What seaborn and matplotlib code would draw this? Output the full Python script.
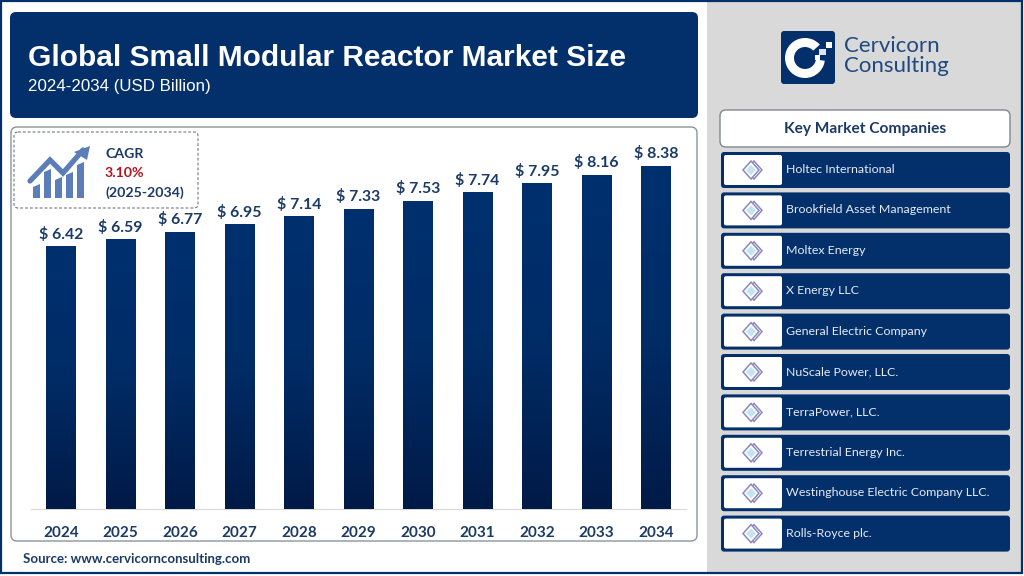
import numpy as np
import pandas as pd
import matplotlib
matplotlib.use("Agg")
import matplotlib.pyplot as plt
from matplotlib.patches import FancyBboxPatch, Rectangle, Polygon, Wedge
from matplotlib.colors import LinearSegmentedColormap
import seaborn as sns

years = ["2024", "2025", "2026", "2027", "2028", "2029", "2030", "2031", "2032", "2033", "2034"]
values = [6.42, 6.59, 6.77, 6.95, 7.14, 7.33, 7.53, 7.74, 7.95, 8.16, 8.38]
companies = ["Holtec International", "Brookfield Asset Management", "Moltex Energy", "X Energy LLC",
             "General Electric Company", "NuScale Power, LLC.", "TerraPower, LLC.",
             "Terrestrial Energy Inc.", "Westinghouse Electric Company LLC.", "Rolls-Royce plc."]
title = "Global Small Modular Reactor Market Size"
subtitle = "2024-2034 (USD Billion)"
source = "Source: www.cervicornconsulting.com"

NAVY = "#03306b"
TEXT = "#1b3a66"
BODY = "Lato"
W, H = 1024, 576

sns.set_theme(style="white")
plt.rcParams["font.family"] = [BODY, "DejaVu Sans"]
fig = plt.figure(figsize=(W / 100, H / 100), dpi=100, facecolor="white")

# page layer in pixel coordinates (y downwards)
pg = fig.add_axes([0, 0, 1, 1], zorder=0)
pg.set_xlim(0, W); pg.set_ylim(H, 0); pg.axis("off")


def rbox(x0, y0, x1, y1, r=5, fc="white", ec="none", lw=1.0, ls="-", z=1):
    p = FancyBboxPatch((x0 + r, y0 + r), x1 - x0 - 2 * r, y1 - y0 - 2 * r,
                       boxstyle=f"round,pad={r},rounding_size={r}", fc=fc, ec=ec, lw=lw, ls=ls, zorder=z)
    pg.add_patch(p)
    return p


pg.add_patch(Rectangle((707, 2), 315, 571, fc="#d9d9d9", ec="none", zorder=0.5))
pg.add_patch(Rectangle((1, 1), 1021, 572, fc="none", ec=NAVY, lw=1.6, zorder=5))

# title banner
rbox(10, 12, 698, 118, r=6, fc=NAVY)
pg.text(28, 58, title, color="white", fontsize=21.5, fontweight="bold", family="Liberation Sans", va="center", zorder=3)
pg.text(28, 87, subtitle, color="white", fontsize=12.2, family="Liberation Sans", va="center", zorder=3)

# chart frame
rbox(11, 127, 697, 541, r=6, fc="white", ec="#8a949e", lw=1.0)
pg.text(23, 559, source, color=TEXT, fontsize=9.5, fontweight="bold", va="center", zorder=3)

# CAGR box
rbox(14, 132, 198, 208, r=4, fc="white", ec="#5f6770", lw=0.7, ls=(0, (3, 2)), z=2)
ICON = "#5b7db8"
for x0, top in [(33, 187), (44, 172), (55, 180), (66, 175), (77, 165)]:
    pg.add_patch(Polygon([(x0, 198), (x0, top), (x0 + 7, top - 3), (x0 + 7, 198)], fc=ICON, ec="none", zorder=3))
pg.plot([30, 50, 63, 83], [181, 160, 173, 150], color=ICON, lw=3.8, solid_joinstyle="miter", zorder=3)
pg.add_patch(Polygon([(74, 152), (90, 146), (87, 160)], fc=ICON, ec="none", zorder=3))
pg.text(105, 154, "CAGR", color=TEXT, fontsize=10.2, fontweight="bold", va="center", zorder=3)
pg.text(105, 173, "3.10%", color="#b5121b", fontsize=10.2, fontweight="bold", va="center", zorder=3)
pg.text(105, 193, "(2025-2034)", color=TEXT, fontsize=10.2, fontweight="bold", va="center", zorder=3)

# logo
rbox(781, 31, 835, 84, r=3, fc=NAVY, z=2)
pg.add_patch(Wedge((805, 58), 20, 0, 360, width=9, fc="white", ec="none", zorder=3))
pg.add_patch(Wedge((805, 58), 26, -42, 8, fc=NAVY, ec="none", zorder=3.2))
pg.add_patch(Rectangle((826, 42), 6, 6, fc="white", ec="none", zorder=3.5))
pg.add_patch(Rectangle((819, 49), 7, 6, fc="#dfe6f0", ec="none", zorder=3.5))
pg.add_patch(Rectangle((815, 55), 5, 5, fc="white", ec="none", zorder=3.5))
pg.text(844, 46, "Cervicorn", color="#1f4a80", fontsize=16, va="center", zorder=3)
pg.text(844, 66, "Consulting", color="#1f4a80", fontsize=16, va="center", zorder=3)

# company list
rbox(720, 110, 1010, 147, r=6, fc="white", ec="#7f8890", lw=1.0, z=2)
pg.text(865, 129, "Key Market Companies", color=TEXT, fontsize=11.2, fontweight="bold", ha="center", va="center", zorder=3)
for i, name in enumerate(companies):
    yc = 170 + i * 40.4
    rbox(721, yc - 18, 1010, yc + 18, r=3, fc=NAVY, z=2)
    rbox(724, yc - 15, 782, yc + 15, r=2, fc="white", z=3)
    pg.add_patch(Polygon([(746, yc), (754, yc - 9), (762, yc), (754, yc + 9)], fc="none", ec="#8f86bd", lw=1.1, zorder=4))
    pg.add_patch(Polygon([(743, yc), (751, yc - 9), (759, yc), (751, yc + 9)], fc="white", ec="#8f86bd", lw=1.1, zorder=4.1))
    pg.add_patch(Polygon([(746, yc), (751, yc - 5), (756, yc), (751, yc + 5)], fc="#bfe6f2", ec="none", zorder=4.2))
    pg.text(786, yc - 0.5, name, color="#e6ebf3", fontsize=8.95, va="center", zorder=5)

# bar chart in its own axes
left, right, top, bottom = 31.25, 685.75, 130, 509
scale = 40.9
ax = fig.add_axes([left / W, 1 - bottom / H, (right - left) / W, (bottom - top) / H], zorder=2)
ax.patch.set_alpha(0)
df = pd.DataFrame({"year": years, "value": values})
sns.barplot(data=df, x="year", y="value", ax=ax, color=NAVY, width=0.497, saturation=1)
ax.set_ylim(0, (bottom - top) / scale)
ax.set_xlim(-0.5, len(years) - 0.5)
ax.set_xlabel(""); ax.set_ylabel("")
ax.set_yticks([])
for s in ["top", "left", "right"]:
    ax.spines[s].set_visible(False)
ax.spines["bottom"].set_color("#d9d9d9")
ax.spines["bottom"].set_linewidth(0.8)
ax.tick_params(axis="x", length=0, pad=12, labelsize=11, labelcolor=TEXT)
for t in ax.get_xticklabels():
    t.set_fontweight("bold")

# vertical gradient inside every bar
cmap = LinearSegmentedColormap.from_list("bar", ["#00306f", "#002c66", "#001a47"])
grad = np.linspace(0, 1, 256).reshape(-1, 1)
for bar, v in zip(ax.patches, values):
    x0, w = bar.get_x(), bar.get_width()
    bar.set_edgecolor("none")
    ax.imshow(grad, extent=(x0, x0 + w, 0, v), cmap=cmap, aspect="auto", zorder=3, origin="upper")
    ax.annotate(f"$ {v:.2f}", (x0 + w / 2, v), xytext=(0, 3.5), textcoords="offset points", ha="center", va="bottom",
                color=TEXT, fontsize=11.4, fontweight="bold")
ax.set_xlim(-0.5, len(years) - 0.5)
ax.set_ylim(0, (bottom - top) / scale)

fig.savefig("out.png", dpi=100, facecolor="white")
